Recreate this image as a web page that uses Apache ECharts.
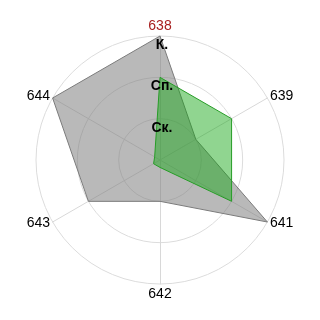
<!DOCTYPE html>
<html>
<head>
<meta charset="utf-8">
<script src="https://cdn.jsdelivr.net/npm/echarts@6/dist/echarts.min.js"></script>
<style>html,body{margin:0;padding:0;background:#fff}#c{width:320px;height:320px}</style>
</head>
<body>
<div id="c"></div>
<script>
// Indicators listed counter-clockwise from the top (ECharts radar order)
var categories = ['638', '644', '643', '642', '641', '639'];
var greyValues = [3, 3, 2, 1, 3, 1];
var greenValues = [2, 0.15, 0.18, 0.18, 2, 2];
var tickLabels = ['', 'Ск.', 'Сп.', 'К.'];
var maxValue = 3;

var FONT = '"Liberation Sans", Arial, sans-serif';

function makeIndicators(withLabels) {
  return categories.map(function (c, i) {
    var ind = { name: c, min: 0, max: maxValue };
    if (i === 0) {
      ind.color = '#a82020';
      if (withLabels) {
        ind.axisLabel = {
          show: true,
          formatter: function (v) { return tickLabels[Math.round(v)] || ''; },
          color: '#000',
          fontWeight: 'bold',
          fontSize: 14,
          fontFamily: FONT,
          align: 'center',
          verticalAlign: 'top',
          margin: 0,
          padding: [2, 0, 0, 4]
        };
      }
    }
    return ind;
  });
}

var common = {
  center: ['50%', '50%'],
  radius: 124,
  startAngle: 90,
  shape: 'circle',
  splitNumber: 3
};

var chart = echarts.init(document.getElementById('c'), null, { renderer: 'canvas' });
chart.setOption({
  animation: false,
  radar: [
    Object.assign({}, common, {
      indicator: makeIndicators(false),
      axisName: { color: '#000', fontSize: 14, fontFamily: FONT },
      nameGap: 3,
      axisLine: { lineStyle: { color: '#d8d8d8', width: 1 } },
      splitLine: { lineStyle: { color: '#dcdcdc', width: 1 } },
      splitArea: { show: false },
      axisTick: { show: false },
      axisLabel: { show: false }
    }),
    Object.assign({}, common, {
      z: 10,
      indicator: makeIndicators(true),
      axisName: { show: false },
      axisLine: { show: false },
      splitLine: { show: false },
      splitArea: { show: false },
      axisTick: { show: false },
      axisLabel: { show: false }
    })
  ],
  series: [{
    type: 'radar',
    radarIndex: 0,
    symbol: 'none',
    data: [
      {
        value: greyValues,
        lineStyle: { color: '#7a7a7a', width: 1 },
        areaStyle: { color: 'rgba(128,128,128,0.55)', opacity: 1 }
      },
      {
        value: greenValues,
        lineStyle: { color: '#2e9a2e', width: 1 },
        areaStyle: { color: 'rgba(20,165,20,0.47)', opacity: 1 }
      }
    ]
  }]
});
</script>
</body>
</html>
